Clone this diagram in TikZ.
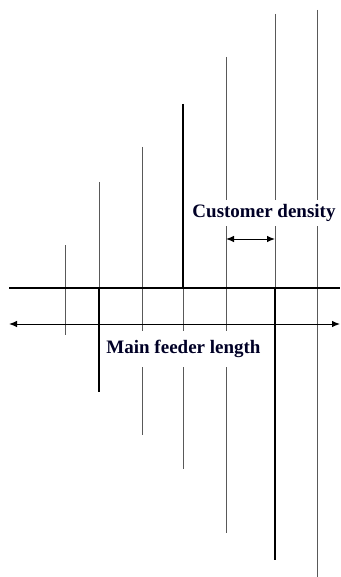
\documentclass[tikz,border=0pt]{standalone}
\usepackage{fontspec}
\setmainfont{Liberation Serif}
\usetikzlibrary{arrows.meta}
\begin{document}
\begin{tikzpicture}[x=1pt,y=-1pt,
  thinline/.style={draw=black!65,line width=1pt},
  thickline/.style={draw=black,line width=2.6pt},
  dimarrow/.style={draw=black,line width=1pt,{Latex[length=8pt,width=6.5pt]}-{Latex[length=8pt,width=6.5pt]}},
  lbl/.style={font=\fontsize{19}{21}\selectfont\bfseries,text=black!85!blue,fill=white,inner xsep=1pt,inner ysep=4pt}]
\useasboundingbox (0,0) rectangle (340,577);
% laterals
\draw[thinline] (65,245) -- (65,335);
\draw[thinline] (99,182) -- (99,288);
\draw[thickline] (99,288) -- (99,392);
\draw[thinline] (142,147) -- (142,435);
\draw[thickline] (183,104) -- (183,288);
\draw[thinline] (183,288) -- (183,469);
\draw[thinline] (226,57) -- (226,533);
\draw[thinline] (275,14) -- (275,288);
\draw[thickline] (275,288) -- (275,560);
\draw[thinline] (317,10) -- (317,577);
% main feeder
\draw[thickline,line width=2.8pt] (9,288) -- (340,288);
% dimension arrows
\coordinate (ml) at (9,324);
\coordinate (mr) at (340,324);
\draw[dimarrow] (ml) -- (mr);
\coordinate (cl) at (226,239);
\coordinate (cr) at (275,239);
\draw[dimarrow] (cl) -- (cr);
% labels
\node[lbl,anchor=center,inner ysep=9pt] (mfl) at (183.5,349) {Main feeder length};
\node[lbl,anchor=center] (cd) at (264,213) {Customer density};
\end{tikzpicture}
\end{document}
